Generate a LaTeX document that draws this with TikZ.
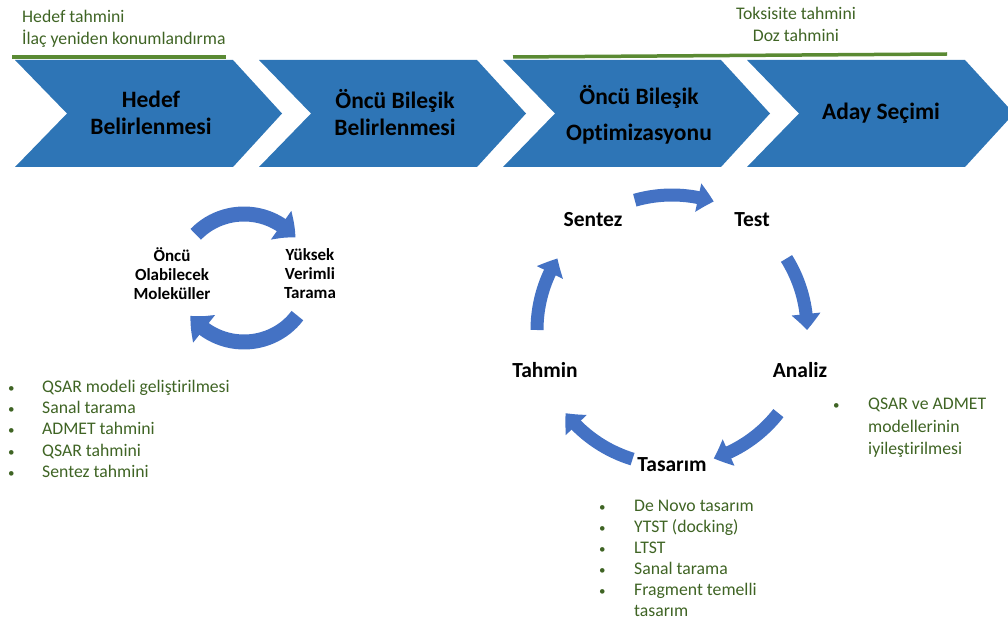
\documentclass[tikz,border=0pt]{standalone}
\usepackage{fontspec}
\setmainfont{Carlito}[Ligatures=NoCommon]
\usetikzlibrary{arrows.meta,bending}
\definecolor{chev}{HTML}{2E75B6}
\definecolor{cyc}{HTML}{4472C4}
\definecolor{gtext}{HTML}{3F6424}
\definecolor{gline}{HTML}{5A8A33}
\newcommand{\bul}{{\fontsize{13}{13}\selectfont •}}
\begin{document}
\begin{tikzpicture}[x=1pt,y=-1pt,
  chevron/.style={fill=chev},
  stage/.style={font=\bfseries\fontsize{23.5}{27}\selectfont, align=center, text=black, inner sep=0pt},
  cyclab/.style={font=\bfseries\fontsize{17}{19}\selectfont, align=center, text=black, inner sep=0pt},
  steplab/.style={font=\bfseries\fontsize{21.5}{24}\selectfont, text=black, inner sep=0pt},
  note/.style={font=\fontsize{17.7}{22}\selectfont, text=gtext, inner sep=0pt},
  glist/.style={text=gtext, inner sep=0pt, anchor=west},
  bar/.style={draw=gline, line width=3.5pt},
  bigarc/.style={draw=cyc, line width=15pt, -{Triangle[length=19pt,width=34pt,bend]}},
  smallarc/.style={draw=cyc, line width=13pt, -{Triangle[length=16pt,width=28pt,bend]}}
]
\useasboundingbox (0,0) rectangle (1008,628);
\clip (0,0) rectangle (1008,628);

% process chevrons
\foreach \x in {15,259,503,747}
  \fill[chevron] (\x,60) -- ++(218,0) -- ++(49,53.5) -- ++(-49,53.5)
    -- ++(-218,0) -- ++(52,-53.5) -- cycle;

\node[stage] (s1) at (151,113) {Hedef\\Belirlenmesi};
\node[stage] (s2) at (395,113) {Öncü Bileşik\\Belirlenmesi};
\node[stage] (s3) at (639,115) {Öncü Bileşik\\[9pt]Optimizasyonu};
\node[stage] (s4) at (881,113) {Aday Seçimi};

% notes above the chevrons
\draw[bar] (12,57) -- (226,57);
\draw[bar] (513,57) -- (947,54);
\node[note, align=left, anchor=west] (n1) at (22,29) {Hedef tahmini\\İlaç yeniden konumlandırma};
\node[note, align=center] (n2) at (796,24) {Toksisite tahmini\\Doz tahmini};

% left cycle
\coordinate (lc) at (244,278);
\draw[bigarc] (lc) ++(-137:66 and 64) arc[start angle=-137, end angle=-39, x radius=66, y radius=64];
\draw[bigarc] (lc) ++(36:66 and 64) arc[start angle=36, end angle=144, x radius=66, y radius=64];
\node[cyclab] (m1) at (172,274) {Öncü\\Olabilecek\\Moleküller};
\node[cyclab] (m2) at (310,274) {Yüksek\\Verimli\\Tarama};

% right cycle
\coordinate (rc) at (672,330);
\foreach \a/\b in {-106/-72, -32/0, 38/72, 107/142, 180/212}
  \draw[smallarc] (rc) ++(\a:135) arc[start angle=\a, end angle=\b, radius=135];
\node[steplab] (c1) at (593,220) {Sentez};
\node[steplab] (c2) at (752,220) {Test};
\node[steplab] (c3) at (800,370) {Analiz};
\node[steplab] (c4) at (672,465) {Tasarım};
\node[steplab] (c5) at (545,370) {Tahmin};

% bullet lists
\node[glist] (b1) at (8,430.5) {\fontsize{17.7}{21.25}\selectfont
  \begin{tabular}{@{}p{34pt}@{}l@{}}
  \bul&QSAR modeli geliştirilmesi\\
  \bul&Sanal tarama\\
  \bul&ADMET tahmini\\
  \bul&QSAR tahmini\\
  \bul&Sentez tahmini
  \end{tabular}};
\node[glist] (b2) at (833,427.5) {\fontsize{17.7}{22.5}\selectfont
  \begin{tabular}{@{}p{35pt}@{}l@{}}
  \bul&QSAR ve ADMET\\
  &modellerinin\\
  &iyileştirilmesi
  \end{tabular}};
\node[glist] (b3) at (599,559.5) {\fontsize{17.7}{21}\selectfont
  \begin{tabular}{@{}p{35pt}@{}l@{}}
  \bul&De Novo tasarım\\
  \bul&YTST (docking)\\
  \bul&LTST\\
  \bul&Sanal tarama\\
  \bul&Fragment temelli\\
  &tasarım
  \end{tabular}};
\end{tikzpicture}
\end{document}
